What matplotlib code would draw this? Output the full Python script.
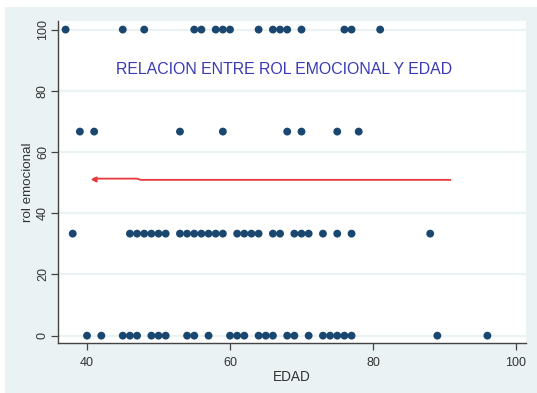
import matplotlib
matplotlib.use("Agg")
import matplotlib.pyplot as plt
from matplotlib.patches import Rectangle

plt.rcParams['font.family'] = ['Liberation Sans', 'DejaVu Sans']

# Observed ages grouped by emotional-role score
edad_100 = [37, 45, 48, 55, 56, 58, 59, 60, 64, 66, 67, 68, 70, 76, 77, 81]
edad_667 = [39, 41, 53, 59, 68, 70, 75, 78]
edad_333 = [38, 46, 47, 48, 49, 50, 51, 53, 54, 55, 56, 57, 58, 59,
            61, 62, 63, 64, 66, 67, 69, 70, 71, 73, 75, 77, 88]
edad_0 = [40, 42, 45, 46, 47, 49, 50, 51, 54, 55, 57, 60, 61, 62, 64,
          65, 66, 68, 69, 71, 73, 74, 75, 76, 77, 89, 96]
niveles = [100, 66.67, 33.33, 0]

# Fitted line
fit_x = [41, 47, 47.5, 90.8]
fit_y = [51.3, 51.3, 50.9, 50.9]

x_ticks = [40, 60, 80, 100]
y_ticks = [0, 20, 40, 60, 80, 100]

W, H = 537, 393
fig = plt.figure(figsize=(W / 100, H / 100), dpi=100)
fig.patch.set_facecolor('white')
fig.patches.append(Rectangle((5 / W, 0), 1 - 5 / W, 1 - 7 / H,
                             transform=fig.transFigure,
                             facecolor='#EAF2F3', edgecolor='none', zorder=-10))

ax = fig.add_axes([58 / W, 1 - 343 / H, (526 - 58) / W, (343 - 21) / H])
ax.set_facecolor('white')

ax.set_xlim(35.94, 101.4)
ax.set_ylim(-2.4, 102.8)

for y in y_ticks:
    ax.axhline(y, color='#EAF2F3', lw=1.6, zorder=1)

navy = '#1A476F'
for grupo, nivel in zip([edad_100, edad_667, edad_333, edad_0], niveles):
    ax.scatter(grupo, [nivel] * len(grupo), s=32, color=navy,
               edgecolors='none', zorder=3)

ax.plot(fit_x, fit_y, color='#E8383D', lw=1.3, zorder=4)
ax.plot(fit_x[0], fit_y[0], marker='<', ms=3.5, color='#E8383D', zorder=4)

ax.text(67.5, 86.8, 'RELACION ENTRE ROL EMOCIONAL Y EDAD',
        color='#3A3AB4', fontsize=11.4, ha='center', va='center', zorder=5)

for s in ['top', 'right']:
    ax.spines[s].set_visible(False)
for s in ['left', 'bottom']:
    ax.spines[s].set_color('#444444')
    ax.spines[s].set_linewidth(1.0)

ax.set_xticks(x_ticks)
ax.set_yticks(y_ticks)
ax.tick_params(axis='both', direction='out', length=5, width=0.9,
               color='#444444', labelcolor='#333333', labelsize=9)
ax.tick_params(axis='x', pad=5)
ax.tick_params(axis='y', labelrotation=90, pad=1.5)
for lab in ax.get_yticklabels():
    lab.set_va('center')

ax.set_xlabel('EDAD', fontsize=9.8, color='#333333', labelpad=1)
ax.set_ylabel('rol emocional', fontsize=9.6, color='#333333', labelpad=2)

fig.savefig('out.png', dpi=100, facecolor=fig.get_facecolor())
